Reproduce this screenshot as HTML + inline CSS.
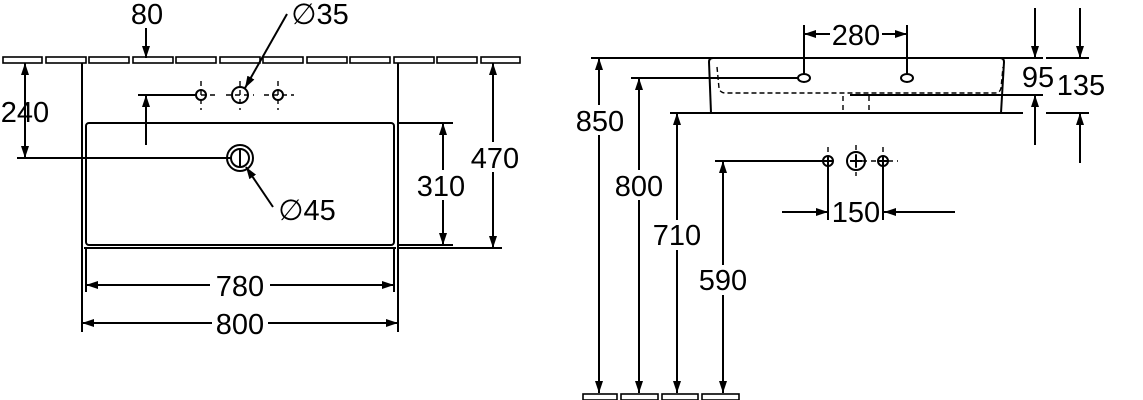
<!DOCTYPE html>
<html><head><meta charset="utf-8"><style>
html,body{margin:0;padding:0;background:#fff}
svg{display:block}
text{font-family:"Liberation Sans",sans-serif;font-size:29px;fill:#000;text-anchor:middle}
</style></head><body>
<svg width="1143" height="400" viewBox="0 0 1143 400" xmlns="http://www.w3.org/2000/svg">
<defs>
<marker id="a" viewBox="0 0 12 8" refX="12" refY="4" markerWidth="12" markerHeight="8" markerUnits="userSpaceOnUse" orient="auto-start-reverse"><path d="M0,0L12,4L0,8z" fill="#000"/></marker>
</defs>
<g fill="none" stroke="#000" stroke-width="2">
<g stroke-width="1.6">
<rect x="3" y="57" width="39" height="6"/><rect x="46" y="57" width="40" height="6"/><rect x="89" y="57" width="40" height="6"/><rect x="133" y="57" width="40" height="6"/><rect x="176" y="57" width="40" height="6"/><rect x="220" y="57" width="40" height="6"/><rect x="263" y="57" width="40" height="6"/><rect x="307" y="57" width="40" height="6"/><rect x="350" y="57" width="40" height="6"/><rect x="394" y="57" width="40" height="6"/><rect x="437" y="57" width="40" height="6"/><rect x="481" y="57" width="39" height="6"/>
</g>
<line x1="82" y1="63" x2="82" y2="332"/><line x1="398" y1="63" x2="398" y2="332"/>
<line x1="86" y1="248" x2="86" y2="292"/><line x1="394" y1="248" x2="394" y2="292"/>
<rect x="86" y="123" width="308" height="122" rx="3"/>
<line x1="84" y1="248" x2="396" y2="248"/>
<circle cx="240" cy="158" r="13"/><circle cx="240" cy="158" r="9"/>
<line x1="17" y1="158" x2="232" y2="158"/><line x1="240" y1="150" x2="240" y2="166"/>
<line x1="138" y1="95" x2="195" y2="95"/>
<circle cx="201" cy="95" r="5"/><circle cx="240" cy="95" r="8"/><circle cx="278" cy="95" r="5"/>
<g stroke-dasharray="5,4" stroke-width="1.4">
<line x1="192" y1="95" x2="216" y2="95"/><line x1="226" y1="95" x2="254" y2="95"/><line x1="264" y1="95" x2="294" y2="95"/>
<line x1="201" y1="81" x2="201" y2="110"/><line x1="240" y1="81" x2="240" y2="110"/><line x1="278" y1="81" x2="278" y2="110"/>
</g>
<line x1="25" y1="63" x2="25" y2="158" marker-start="url(#a)" marker-end="url(#a)"/>
<line x1="146" y1="28" x2="146" y2="58" marker-end="url(#a)"/>
<line x1="146" y1="145" x2="146" y2="95" marker-end="url(#a)"/>
<line x1="287" y1="14" x2="245" y2="88" marker-end="url(#a)"/>
<line x1="273" y1="207" x2="246" y2="167" marker-end="url(#a)"/>
<line x1="398" y1="123" x2="453" y2="123"/>
<line x1="443" y1="123" x2="443" y2="245" marker-start="url(#a)" marker-end="url(#a)"/>
<line x1="398" y1="245" x2="453" y2="245"/>
<line x1="398" y1="248" x2="502" y2="248"/>
<line x1="493" y1="63" x2="493" y2="248" marker-start="url(#a)" marker-end="url(#a)"/>
<line x1="86" y1="285" x2="212" y2="285" marker-start="url(#a)"/><line x1="268" y1="285" x2="394" y2="285" marker-end="url(#a)"/>
<line x1="82" y1="323" x2="212" y2="323" marker-start="url(#a)"/><line x1="268" y1="323" x2="398" y2="323" marker-end="url(#a)"/>

<line x1="591" y1="58" x2="1043" y2="58"/><line x1="1046" y1="58" x2="1089" y2="58"/>
<path d="M709,62 Q709,58 713,58 L1000,58 Q1004,58 1004,62 L1001,113"/>
<line x1="709" y1="62" x2="711" y2="113"/>
<path d="M717,67 L719,88 Q720,93 726,93 L995,93 Q1000,93 1001,88 L1003,67" stroke-dasharray="5,3" stroke-width="1.4"/>
<g stroke-dasharray="5,4" stroke-width="1.4"><line x1="843" y1="96" x2="843" y2="111"/><line x1="869" y1="96" x2="869" y2="111"/></g>
<line x1="670" y1="113" x2="1023" y2="113"/><line x1="1046" y1="113" x2="1089" y2="113"/>
<line x1="850" y1="95" x2="1043" y2="95"/>
<line x1="631" y1="78" x2="798" y2="78"/>
<ellipse cx="804" cy="78" rx="6" ry="4"/><ellipse cx="907" cy="78" rx="6" ry="4"/>
<line x1="804" y1="25" x2="804" y2="74"/><line x1="907" y1="25" x2="907" y2="74"/>
<line x1="804" y1="34" x2="830" y2="34" marker-start="url(#a)"/><line x1="882" y1="34" x2="907" y2="34" marker-end="url(#a)"/>
<line x1="1035" y1="8" x2="1035" y2="58" marker-end="url(#a)"/>
<line x1="1035" y1="145" x2="1035" y2="95" marker-end="url(#a)"/>
<line x1="1080" y1="8" x2="1080" y2="58" marker-end="url(#a)"/>
<line x1="1080" y1="163" x2="1080" y2="113" marker-end="url(#a)"/>
<line x1="599" y1="58" x2="599" y2="393" marker-start="url(#a)" marker-end="url(#a)"/>
<line x1="639" y1="78" x2="639" y2="393" marker-start="url(#a)" marker-end="url(#a)"/>
<line x1="677" y1="113" x2="677" y2="393" marker-start="url(#a)" marker-end="url(#a)"/>
<line x1="723" y1="161" x2="723" y2="393" marker-start="url(#a)" marker-end="url(#a)"/>
<line x1="715" y1="161" x2="823" y2="161"/>
<circle cx="828" cy="161" r="5"/><circle cx="856" cy="161" r="9"/><circle cx="883" cy="161" r="5"/>
<line x1="823" y1="161" x2="833" y2="161"/><line x1="828" y1="156" x2="828" y2="166"/><line x1="883" y1="156" x2="883" y2="166"/><line x1="878" y1="161" x2="888" y2="161"/>
<line x1="850" y1="161" x2="862" y2="161"/><line x1="856" y1="155" x2="856" y2="167"/>
<g stroke-dasharray="5,4" stroke-width="1.4"><line x1="828" y1="147" x2="828" y2="156"/><line x1="856" y1="145" x2="856" y2="176"/><line x1="883" y1="147" x2="883" y2="156"/><line x1="862" y1="161" x2="878" y2="161"/><line x1="888" y1="161" x2="898" y2="161"/></g>
<line x1="828" y1="166" x2="828" y2="220"/><line x1="883" y1="166" x2="883" y2="220"/>
<line x1="782" y1="212" x2="828" y2="212" marker-end="url(#a)"/><line x1="955" y1="212" x2="884" y2="212" marker-end="url(#a)"/>
<g stroke-width="1.6"><rect x="583" y="394" width="34" height="6"/><rect x="621" y="394" width="37" height="6"/><rect x="662" y="394" width="36" height="6"/><rect x="702" y="394" width="37" height="6"/></g>
</g>
<g>
<rect x="210" y="270" width="60" height="30" fill="#fff"/>
<text x="240" y="296">780</text>
<text x="240" y="334">800</text>
<text x="147" y="24">80</text>
<text x="320" y="24">∅35</text>
<text x="307" y="220">∅45</text>
<text x="25" y="122">240</text>
<rect x="428" y="170" width="30" height="30" fill="#fff"/>
<text x="441" y="196">310</text>
<rect x="478" y="142" width="30" height="30" fill="#fff"/>
<text x="495" y="168">470</text>
<text x="856" y="45">280</text>
<text x="1038" y="87">95</text>
<text x="1081" y="95">135</text>
<rect x="580" y="105" width="40" height="30" fill="#fff"/>
<text x="600" y="131">850</text>
<rect x="620" y="170" width="40" height="30" fill="#fff"/>
<text x="639" y="196">800</text>
<rect x="658" y="220" width="40" height="30" fill="#fff"/>
<text x="677" y="245">710</text>
<rect x="703" y="265" width="40" height="30" fill="#fff"/>
<text x="723" y="290">590</text>
<text x="856" y="222">150</text>
</g>
</svg>
</body></html>
